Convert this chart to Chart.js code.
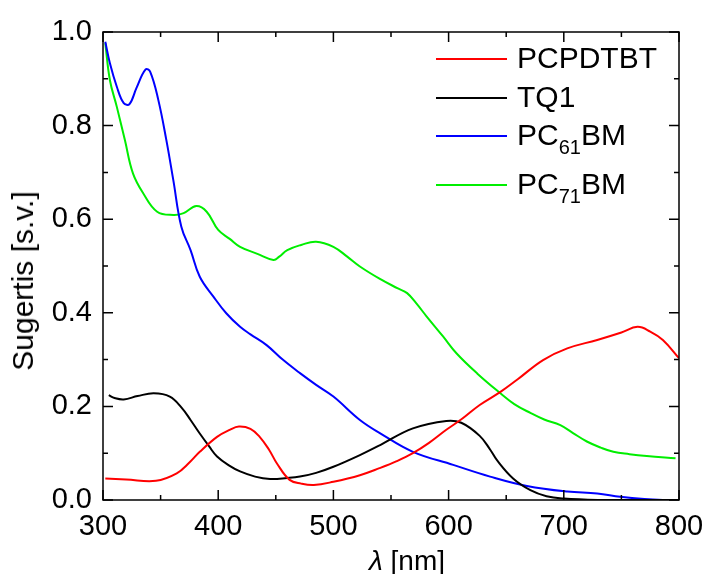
<!DOCTYPE html>
<html>
<head>
<meta charset="utf-8">
<script src="https://cdn.jsdelivr.net/npm/chart.js@4.4.0/dist/chart.umd.min.js"></script>
<style>
  body { margin: 0; background: #fff; }
  #wrap { position: relative; width: 709px; height: 574px; font-family: 'Liberation Sans', Arial, sans-serif; color: #000; }
  #legend .row { position: absolute; left: 436px; height: 30px; line-height: 30px; font-size: 30px; white-space: nowrap; }
  #legend .ln { position: absolute; left: 0; top: 14.5px; width: 71px; height: 2px; }
  #legend .tx { position: absolute; left: 81px; top: 0; }
  #legend sub { font-size: 20px; vertical-align: -9px; line-height: 0; }
  .title { position: absolute; font-size: 28px; line-height: 28px; white-space: nowrap; }
  #ytitle { font-size: 30px; left: 23px; top: 281px; transform: translate(-50%, -50%) rotate(-90deg); }
  #xtitle { left: 407px; top: 547px; transform: translateX(-50%); }
</style>
</head>
<body>
<div id="wrap">
  <canvas id="myChart" width="709" height="574"></canvas>
  <div id="legend"></div>
  <div class="title" id="ytitle">Sugertis [s.v.]</div>
  <div class="title" id="xtitle"><i>λ</i> [nm]</div>
</div>
<script>
// absorbcijos spektrai, nuskaityti nuo grafiko
const wlPcpdtbt = [302, 320, 346, 364, 375, 384, 399, 410, 418, 428, 436, 444, 451, 462, 472, 483, 500, 523, 540, 555, 569, 583, 598, 612, 627, 645, 660, 682, 703, 729, 750, 764, 775, 786, 800];
const pcpdtbt   = [0.046, 0.044, 0.041, 0.057, 0.080, 0.103, 0.135, 0.150, 0.157, 0.152, 0.135, 0.108, 0.078, 0.043, 0.035, 0.032, 0.039, 0.053, 0.068, 0.083, 0.100, 0.122, 0.150, 0.174, 0.203, 0.231, 0.258, 0.299, 0.324, 0.342, 0.358, 0.370, 0.360, 0.342, 0.303];

const wlTq1 = [305, 310, 318, 330, 344, 358, 368, 376, 384, 392, 399, 410, 419, 432, 445, 460, 471, 485, 500, 523, 541, 569, 598, 611, 627, 636, 642, 656, 671, 685, 700, 730, 760, 800];
const tq1   = [0.224, 0.218, 0.215, 0.222, 0.228, 0.221, 0.198, 0.171, 0.142, 0.115, 0.093, 0.073, 0.061, 0.050, 0.045, 0.047, 0.050, 0.058, 0.071, 0.096, 0.118, 0.153, 0.169, 0.165, 0.137, 0.108, 0.085, 0.046, 0.021, 0.008, 0.003, 0, 0, 0];

const wlPc61 = [302, 306, 312, 318, 323, 329, 337, 341, 348, 355, 361, 368, 376, 384, 396, 407, 419, 428, 442, 456, 471, 485, 500, 523, 541, 569, 604, 636, 668, 703, 729, 749, 770, 786, 795];
const pc61bm = [0.979, 0.933, 0.883, 0.848, 0.846, 0.880, 0.920, 0.915, 0.855, 0.769, 0.684, 0.584, 0.534, 0.477, 0.434, 0.399, 0.370, 0.354, 0.331, 0.300, 0.271, 0.246, 0.221, 0.171, 0.142, 0.103, 0.075, 0.050, 0.030, 0.018, 0.014, 0.007, 0.002, 0, 0];

const wlPc71 = [302, 306, 312, 319, 326, 335, 347, 361, 370, 381, 390, 400, 410, 419, 434, 448, 453, 460, 472, 485, 500, 512, 523, 540, 556, 564, 572, 581, 595, 607, 625, 645, 657, 671, 683, 697, 708, 720, 732, 743, 757, 772, 797];
const pc71bm = [0.976, 0.897, 0.840, 0.769, 0.698, 0.655, 0.616, 0.609, 0.613, 0.628, 0.616, 0.577, 0.558, 0.541, 0.526, 0.513, 0.520, 0.534, 0.545, 0.552, 0.541, 0.520, 0.499, 0.473, 0.452, 0.442, 0.420, 0.392, 0.350, 0.313, 0.270, 0.228, 0.205, 0.186, 0.172, 0.160, 0.143, 0.125, 0.112, 0.103, 0.098, 0.094, 0.089];

const seriesNames = ['PCPDTBT', 'TQ1', 'PC<sub>61</sub>BM', 'PC<sub>71</sub>BM'];
const seriesColors = ['#ff0000', '#000000', '#0000ff', '#00ee00'];

const xMajor = [300, 400, 500, 600, 700, 800];
const xMinor = [350, 450, 550, 650, 750];
const yMajor = [0, 0.2, 0.4, 0.6, 0.8, 1.0];
const yMinor = [0.1, 0.3, 0.5, 0.7, 0.9];

function pts(xs, ys) {
  return xs.map((x, i) => ({ x: x, y: ys[i] }));
}

const allData = [pts(wlPcpdtbt, pcpdtbt), pts(wlTq1, tq1), pts(wlPc61, pc61bm), pts(wlPc71, pc71bm)];

// remelis ir i vidu nukreipti padalos
const frameTicks = {
  id: 'frameTicks',
  afterDatasetsDraw(chart) {
    const ctx = chart.ctx;
    const a = chart.chartArea;
    const x = chart.scales.x, y = chart.scales.y;
    ctx.save();
    ctx.strokeStyle = '#000';
    ctx.lineWidth = 1.5;
    ctx.strokeRect(a.left, a.top, a.right - a.left, a.bottom - a.top);
    ctx.beginPath();
    const xt = xMajor.map(v => [v, 10]).concat(xMinor.map(v => [v, 5]));
    xt.forEach(t => {
      const px = x.getPixelForValue(t[0]);
      ctx.moveTo(px, a.bottom); ctx.lineTo(px, a.bottom - t[1]);
      ctx.moveTo(px, a.top); ctx.lineTo(px, a.top + t[1]);
    });
    const yt = yMajor.map(v => [v, 10]).concat(yMinor.map(v => [v, 5]));
    yt.forEach(t => {
      const py = y.getPixelForValue(t[0]);
      ctx.moveTo(a.left, py); ctx.lineTo(a.left + t[1], py);
      ctx.moveTo(a.right, py); ctx.lineTo(a.right - t[1], py);
    });
    ctx.stroke();
    ctx.restore();
  }
};

const ctx = document.getElementById('myChart').getContext('2d');
const myChart = new Chart(ctx, {
  type: 'line',
  data: {
    datasets: allData.map((d, i) => ({
      label: seriesNames[i],
      data: d,
      borderColor: seriesColors[i],
      borderWidth: 2,
      pointRadius: 0,
      fill: false,
      tension: 0.4
    }))
  },
  options: {
    responsive: false,
    animation: false,
    layout: { padding: { top: 32, right: 30, left: 0, bottom: 0 } },
    plugins: { legend: { display: false }, tooltip: { enabled: false } },
    scales: {
      x: {
        type: 'linear', min: 300, max: 800,
        grid: { display: false, drawTicks: false },
        border: { display: false },
        ticks: { stepSize: 100, color: '#000', padding: 10, font: { family: 'Liberation Sans', size: 29 } },
        afterFit: s => { s.height = 74; s.paddingLeft = 0; s.paddingRight = 0; }
      },
      y: {
        min: 0, max: 1,
        grid: { display: false, drawTicks: false },
        border: { display: false },
        ticks: { stepSize: 0.2, color: '#000', padding: 11, font: { family: 'Liberation Sans', size: 29 },
                 callback: v => v.toFixed(1) },
        afterFit: s => { s.width = 103; s.paddingTop = 0; s.paddingBottom = 0; }
      }
    }
  },
  plugins: [frameTicks]
});

// legenda su apatiniais indeksais
const legendTops = [43, 82, 120, 169];
const legend = document.getElementById('legend');
myChart.data.datasets.forEach((ds, i) => {
  const row = document.createElement('div');
  row.className = 'row';
  row.style.top = legendTops[i] + 'px';
  row.innerHTML = '<div class="ln" style="background:' + ds.borderColor + '"></div><div class="tx">' + ds.label + '</div>';
  legend.appendChild(row);
});
</script>
</body>
</html>
